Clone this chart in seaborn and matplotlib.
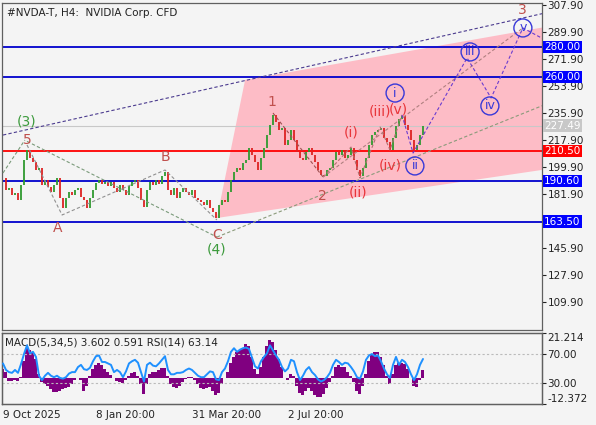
import matplotlib
matplotlib.use("Agg")
import matplotlib.pyplot as plt
import seaborn as sns
import pandas as pd

# === Dados ===
closes = [192.6, 184.6, 185.9, 181.2, 182.6, 177.9, 187.9, 204.6, 211.2, 205.9,
          203.2, 197.9, 199.2, 187.9, 191.2, 186.6, 183.2, 187.9, 192.6, 179.2,
          172.6, 179.2, 183.2, 181.2, 184.6, 185.9, 179.9, 177.9, 172.6, 179.2,
          184.6, 189.2, 191.2, 188.6, 189.9, 187.2, 189.9, 185.9, 183.2, 187.9,
          184.6, 181.2, 187.2, 189.9, 191.2, 185.9, 177.9, 173.2, 184.6, 189.9,
          187.9, 191.2, 188.6, 193.9, 196.6, 184.6, 181.2, 185.9, 179.2, 183.2,
          185.9, 183.2, 181.2, 184.6, 179.2, 177.9, 176.6, 174.6, 177.9, 172.6,
          169.9, 165.9, 174.6, 177.9, 176.6, 183.2, 191.2, 196.6, 199.2, 197.9,
          202.6, 204.6, 212.6, 207.9, 203.2, 197.9, 205.9, 212.6, 221.2, 227.9,
          234.6, 229.9, 224.6, 225.9, 214.6, 217.9, 224.6, 217.9, 209.9, 205.9,
          204.6, 209.9, 212.6, 207.9, 203.2, 197.9, 194.6, 193.9, 197.9, 199.2,
          204.6, 209.9, 207.9, 211.2, 205.9, 207.9, 212.6, 204.6, 197.9, 193.9,
          199.2, 205.9, 214.6, 221.2, 223.2, 224.6, 225.9, 219.2, 216.6, 211.2,
          219.2, 227.2, 231.9, 233.9, 227.9, 224.6, 217.9, 211.2, 214.6, 221.2,
          227.49]

rsi = [57, 48, 45, 44, 48, 44, 56, 70, 82, 71,
       73, 66, 40, 34, 40, 44, 40, 38, 40, 37,
       36, 38, 43, 45, 45, 52, 55, 49, 48, 51,
       60, 67, 68, 59, 59, 57, 55, 45, 48, 45,
       38, 46, 57, 60, 62, 58, 45, 32, 55, 58,
       54, 53, 57, 62, 67, 48, 42, 42, 44, 44,
       45, 48, 50, 48, 44, 40, 38, 38, 42, 46,
       45, 35, 34, 45, 50, 60, 73, 78, 73, 76,
       78, 79, 77, 65, 53, 50, 60, 66, 71, 82,
       75, 68, 62, 52, 46, 50, 62, 60, 45, 34,
       40, 48, 52, 45, 41, 35, 32, 34, 38, 44,
       55, 62, 59, 55, 58, 57, 52, 46, 38, 36,
       46, 62, 68, 70, 67, 68, 60, 50, 42, 37,
       55, 66, 55, 62, 59, 52, 42, 34, 42, 55,
       63.14]

macd = [4, 3, -1.5, -1.5, -1, -1.5, 0.5, 8, 14, 13,
        12, 9, 2, -2, -3, -4, -5.5, -6.5, -6.8, -6,
        -5.5, -5, -4.5, -3, -1, 0, -1, -6, -4, 1,
        4, 6, 7, 6, 4, 3, 1.5, 0, -1.5, -2,
        -2.5, -1, 1, 2.5, 3, 1, -3, -7.5, -3, 2,
        3, 3, 3.5, 4.5, 4.5, 1, -3, -4.5, -5, -4,
        -2, -0.5, 0.5, 0.5, -1, -3, -5, -5.5, -5, -4.5,
        -6, -8, -7, -3, 0, 3, 7, 10, 12, 13,
        14, 16, 15, 10, 4, 2, 5, 10, 15, 18,
        17, 13, 9, 5, 0, -1, 2, 1, -4, -7,
        -8, -6, -5, -6, -8, -9, -9, -7.5, -5, -2,
        1, 5, 6, 5, 5, 3, 1, -2, -6, -7.5,
        -4, 2, 8, 11, 12, 12, 10, 6, 1, -3,
        2, 6, 7, 7, 6.5, 4, 0, -4, -4.5, -1,
        3.602]

tick_pos = [0, 31, 63, 95]
tick_labels = ["9 Oct 2025", "8 Jan 20:00", "31 Mar 20:00", "2 Jul 20:00"]
price_ticks = [307.9, 289.9, 271.9, 253.9, 235.9, 217.9, 199.9, 181.9, 145.9, 127.9, 109.9]
blue_levels = [280.0, 260.0, 190.6, 163.5]
red_level = 210.5
last_price = 227.49

# ondas (indice da barra, preco)
line_3_5 = [(0, 195.9), (7.3, 217.9)]
line_3_4 = [(8, 217.0), (71.3, 153.2)]
line_4_up = [(71.3, 153.2), (185, 245.0)]
line_abc = [(8, 214.6), (19.7, 167.9), (54, 197.9), (71.3, 164.6)]
line_12 = [(90, 235.9), (106.7, 193.2)]
line_sub = [(106.7, 193.2), (116, 213.2), (119, 192.6), (125.7, 226.6), (129, 211.2), (133, 234.6)]
line_proj = [(133, 234.6), (136.7, 209.2), (154.7, 272.6), (162.7, 245.9), (173.3, 292.6), (185, 280.0)]
line_2_v = [(106.7, 193.2), (173.3, 292.6)]
line_top = [(0, 221.2), (185, 304.5)]
pink_area = [(71.3, 165.9), (80.7, 257.9), (190, 296.5), (190, 201.0)]

labels_brown = [("5", 8, 217.9), ("A", 18.3, 159.2), ("B", 54, 206.6), ("C", 71.3, 154.6),
                ("1", 89.7, 243.2), ("2", 106.3, 180.6), ("3", 173, 304.6)]
labels_green = [("(3)", 8, 229.9), ("(4)", 71.3, 144.6)]
labels_red = [("(i)", 116, 223.2), ("(ii)", 118.3, 182.6), ("(iii)", 125.7, 236.6),
              ("(iv)", 129, 200.6), ("(v)", 131.9, 237.9)]
labels_circ = [("i", 130.7, 249.2), ("ii", 137.3, 200.6), ("iii", 155.7, 276.6),
               ("iv", 162.3, 240.6), ("v", 173.3, 292.6)]

BG = "#f4f4f4"
sns.set_style("white")
plt.rcParams['font.family'] = ['DejaVu Sans']

fig = plt.figure(figsize=(5.96, 4.25), dpi=100, facecolor=BG)
ax = fig.add_axes([2/596, 1-330/425, 540/596, 327/425], facecolor=BG)
axi = fig.add_axes([2/596, 1-404/425, 540/596, 71/425], facecolor=BG)
axr = axi.twinx()

df = pd.DataFrame({"bar": range(len(closes)), "close": closes, "rsi": rsi, "macd": macd})
df["open"] = df["close"].shift(1).fillna(df["close"])

# === Painel principal ===
ax.fill([p[0] for p in pink_area], [p[1] for p in pink_area], color="#ffb6c1", alpha=0.9, lw=0, zorder=1)

for lv in blue_levels:
    ax.axhline(lv, color="#0000cd", lw=1.3, zorder=2)
ax.axhline(red_level, color="#ff0000", lw=1.3, zorder=2)
ax.axhline(last_price, color="#c8c8c8", lw=0.8, zorder=2)

up = df["close"] >= df["open"]
ax.vlines(df["bar"][up], df["open"][up], df["close"][up], color="#2f9a2f", lw=1.3, zorder=3)
ax.vlines(df["bar"][~up], df["close"][~up], df["open"][~up], color="#dd2222", lw=1.3, zorder=3)


def path(pts, color, ls=(0, (3, 2)), lw=0.8):
    ax.plot([p[0] for p in pts], [p[1] for p in pts], color=color, ls=ls, lw=lw, zorder=4)


path(line_top, "#4b3b8f")
path(line_3_5, "#7a9a7a")
path(line_3_4, "#7a9a7a")
path(line_4_up, "#8a9a7a")
path(line_abc, "#909090")
path(line_12, "#a05050")
path(line_sub, "#b07070")
path(line_2_v, "#b08080")
path(line_proj, "#6a3bd0")

for t, x, y in labels_brown:
    ax.text(x, y, t, color="#c0504d", fontsize=10, ha="center", va="center", zorder=5)
for t, x, y in labels_green:
    ax.text(x, y, t, color="#3c9a3c", fontsize=10, ha="center", va="center", zorder=5)
for t, x, y in labels_red:
    ax.text(x, y, t, color="#e8353a", fontsize=10, ha="center", va="center", zorder=5)
for t, x, y in labels_circ:
    ax.text(x, y, t, color="#3838d8", fontsize=9, ha="center", va="center", zorder=5,
            bbox=dict(boxstyle="circle,pad=0.2", fc="none", ec="#3838d8", lw=1.0))

ax.text(0.01, 0.985, "#NVDA-T, H4:  NVIDIA Corp. CFD", transform=ax.transAxes,
        fontsize=7.5, color="#222222", ha="left", va="top")

ax.set_xlim(-0.33, 179.67)
ax.set_ylim(91.23, 309.23)
ax.set_xticks([])
ax.yaxis.tick_right()
ax.set_yticks(price_ticks)
ax.set_yticklabels([f"{v:.2f}" for v in price_ticks])
ax.tick_params(axis="y", direction="out", length=3, pad=1, labelsize=7.5, colors="#222222")

tr = ax.get_yaxis_transform()
for lv in blue_levels:
    ax.text(1.004, lv, f"{lv:.2f}", transform=tr, color="white", fontsize=7.5, ha="left", va="center",
            bbox=dict(boxstyle="square,pad=0.12", fc="#0000ff", ec="none"))
ax.text(1.004, red_level, f"{red_level:.2f}", transform=tr, color="white", fontsize=7.5, ha="left",
        va="center", bbox=dict(boxstyle="square,pad=0.12", fc="#ff0000", ec="none"))
ax.text(1.004, last_price, f"{last_price:.2f}", transform=tr, color="white", fontsize=7.5, ha="left",
        va="center", bbox=dict(boxstyle="square,pad=0.12", fc="#c8c8c8", ec="none"))

for s in ax.spines.values():
    s.set_color("#606060")
    s.set_linewidth(0.9)

# === Painel MACD / RSI ===
axi.bar(df["bar"], df["macd"], width=1.0, color="#800080", lw=0, zorder=2)
axi.set_ylim(-12.372, 21.214)
axi.set_xlim(-0.33, 179.67)
axi.yaxis.tick_right()
axi.set_yticks([21.214, -12.372])
axi.set_yticklabels(["21.214", "-12.372"])
for lab, va in zip(axi.get_yticklabels(), ["top", "bottom"]):
    lab.set_va(va)
axi.tick_params(axis="y", direction="out", length=3, pad=1, labelsize=7.5, colors="#222222",
                left=False, labelleft=False, right=True, labelright=True)
axi.set_xticks(tick_pos)
axi.set_xticklabels(tick_labels, ha="left")
axi.tick_params(axis="x", direction="out", length=3, pad=1, labelsize=7.5, colors="#222222")

axr.set_ylim(1, 99)
axr.axhline(70, color="#bbbbbb", ls=(0, (2, 2)), lw=0.8, zorder=1)
axr.axhline(30, color="#bbbbbb", ls=(0, (2, 2)), lw=0.8, zorder=1)
sns.lineplot(data=df, x="bar", y="rsi", ax=axr, color="#1e90ff", lw=1.4, zorder=3)
axr.set_ylabel("")
axr.set_xlabel("")
axi.set_xlabel("")
axr.set_xlim(-0.33, 179.67)
axr.set_yticks([70, 30])
axr.set_yticklabels(["70.00", "30.00"])
axr.tick_params(axis="y", direction="out", length=3, pad=1, labelsize=7.5, colors="#222222")
axi.text(0.006, 0.93, "MACD(5,34,5) 3.602 0.591 RSI(14) 63.14", transform=axi.transAxes,
         fontsize=7.5, color="#222222", ha="left", va="top", zorder=6)

for a in (axi, axr):
    for s in a.spines.values():
        s.set_color("#606060")
        s.set_linewidth(0.9)

fig.savefig("out.png", dpi=100, facecolor=BG)
